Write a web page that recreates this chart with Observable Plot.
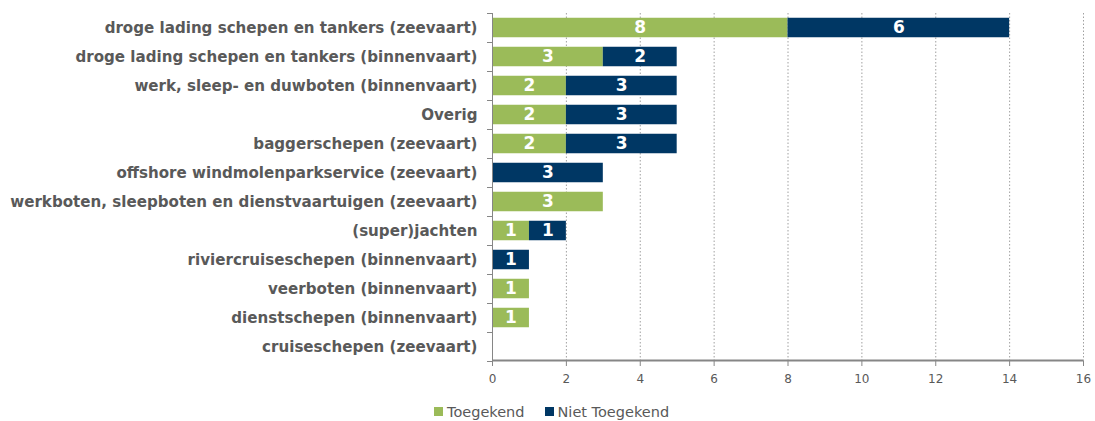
<!DOCTYPE html>
<html>
<head>
<meta charset="utf-8">
<script src="https://cdn.jsdelivr.net/npm/d3@7"></script>
<script src="https://cdn.jsdelivr.net/npm/@observablehq/plot@0.6"></script>
<style>
  body { margin: 0; background: #fff; font-family: "DejaVu Sans", sans-serif; }
  #legend { display: flex; align-items: center; margin-left: 434px; padding-top: 7px; height: 19px; line-height: 20px; font-size: 14.5px; color: #595959; }
  .sw { width: 9px; height: 9px; display: inline-block; margin-right: 4px; }
  .item { display: flex; align-items: center; margin-right: 20px; }
</style>
</head>
<body>
<div id="chart"></div>
<div id="legend"></div>
<script>
const categories = [
  "droge lading schepen en tankers (zeevaart)",
  "droge lading schepen en tankers (binnenvaart)",
  "werk, sleep- en duwboten (binnenvaart)",
  "Overig",
  "baggerschepen (zeevaart)",
  "offshore windmolenparkservice (zeevaart)",
  "werkboten, sleepboten en dienstvaartuigen (zeevaart)",
  "(super)jachten",
  "riviercruiseschepen (binnenvaart)",
  "veerboten (binnenvaart)",
  "dienstschepen (binnenvaart)",
  "cruiseschepen (zeevaart)"
];
const toegekend     = [8, 3, 2, 2, 2, 0, 3, 1, 0, 1, 1, 0];
const nietToegekend = [6, 2, 3, 3, 3, 3, 0, 1, 1, 0, 0, 0];
const seriesNames = ["Toegekend", "Niet Toegekend"];
const seriesColors = ["#9bbb59", "#003764"];
const xTicks = [0, 2, 4, 6, 8, 10, 12, 14, 16];

const data = [];
categories.forEach((c, i) => {
  data.push({category: c, status: seriesNames[0], value: toegekend[i]});
  data.push({category: c, status: seriesNames[1], value: nietToegekend[i]});
});

const W = 1095, H = 395, mT = 13, mB = 34;
const step = (H - mT - mB) / categories.length;
const lastCat = categories[categories.length - 1];

const plot = Plot.plot({
  width: W,
  height: H,
  marginLeft: 492,
  marginRight: 12,
  marginTop: mT,
  marginBottom: mB,
  style: {fontFamily: "DejaVu Sans, sans-serif", color: "#595959"},
  x: {domain: [xTicks[0], xTicks[xTicks.length - 1]], axis: null, label: null},
  y: {domain: categories, padding: 0, axis: null, label: null},
  color: {domain: seriesNames, range: seriesColors},
  marks: [
    Plot.gridX(xTicks, {stroke: "#a0a0a0", strokeOpacity: 1, strokeDasharray: "1.5,2"}),
    Plot.barX(data, Plot.stackX({x: "value", y: "category", fill: "status", insetTop: 4.75, insetBottom: 4.75})),
    Plot.text(data, Plot.stackX({x: "value", y: "category", z: "status", text: d => d.value > 0 ? String(d.value) : "", fill: "white", fontWeight: "bold", fontSize: 17})),
    Plot.ruleX([0], {stroke: "#868686"}),
    // x axis baseline: a 1px bar at the bottom edge of the last band
    Plot.barX([lastCat], {x1: xTicks[0], x2: xTicks[xTicks.length - 1], y: d => d, insetTop: step - 1.5, insetBottom: -0.5, fill: "#868686"}),
    Plot.axisY({label: null, tickSize: 0, tickPadding: 15, fontWeight: "bold", fontSize: 15.1, fill: "#595959"}),
    Plot.axisY({label: null, tickSize: 5, tickFormat: () => "", dy: -step / 2, stroke: "#868686"}),
    Plot.axisY({label: null, ticks: [lastCat], tickSize: 5, tickFormat: () => "", dy: step / 2, stroke: "#868686"}),
    Plot.axisX({label: null, ticks: xTicks, tickSize: 5, tickPadding: 8, fontSize: 12, fill: "#595959", stroke: "#868686"})
  ]
});
document.getElementById("chart").appendChild(plot);

const legend = document.getElementById("legend");
seriesNames.forEach((n, i) => {
  const item = document.createElement("span");
  item.className = "item";
  const sw = document.createElement("span");
  sw.className = "sw";
  sw.style.background = seriesColors[i];
  item.appendChild(sw);
  item.appendChild(document.createTextNode(n));
  legend.appendChild(item);
});
</script>
</body>
</html>
